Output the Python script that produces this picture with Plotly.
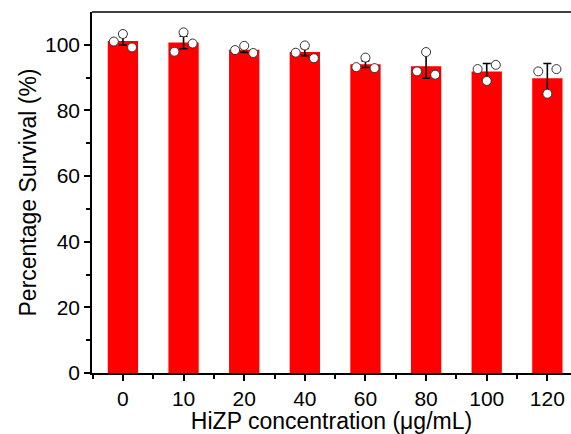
import plotly.graph_objects as go

categories = ["0", "10", "20", "40", "60", "80", "100", "120"]
means = [101.2, 100.7, 98.5, 97.8, 94.1, 93.5, 91.9, 89.8]
errors = [1.3, 1.9, 0.8, 1.1, 1.0, 3.7, 2.4, 4.5]
rep1 = [101.0, 97.9, 98.4, 97.6, 93.2, 91.9, 92.6, 91.9]
rep2 = [103.3, 103.8, 99.7, 99.8, 96.1, 97.8, 89.0, 85.1]
rep3 = [99.2, 100.4, 97.5, 95.9, 92.9, 90.9, 93.9, 92.6]

xi = list(range(len(categories)))
font = "Liberation Sans, Arial, sans-serif"

fig = go.Figure()
fig.add_trace(go.Bar(
    x=xi, y=means, width=0.5,
    marker=dict(color="#ff0000", line=dict(width=0)),
    error_y=dict(type="data", array=errors, color="black", thickness=1.6, width=4),
    showlegend=False,
))
for reps, off in [(rep1, -0.15), (rep2, 0.0), (rep3, 0.15)]:
    fig.add_trace(go.Scatter(
        x=[v + off for v in xi], y=reps, mode="markers",
        marker=dict(size=9, color="white", line=dict(color="#333333", width=1)),
        showlegend=False, cliponaxis=False,
    ))

fig.update_layout(
    width=571, height=434,
    margin=dict(l=92, r=0, t=12, b=61),
    paper_bgcolor="white", plot_bgcolor="white",
    font=dict(family=font, size=21, color="black"),
    bargap=0.5,
    shapes=[dict(type="line", xref="paper", yref="paper", x0=0, x1=1, y0=1, y1=1,
                 line=dict(color="black", width=1.5))],
)
fig.update_xaxes(
    range=[-0.51, 7.39], tickmode="array", tickvals=xi, ticktext=categories,
    showline=True, linecolor="black", linewidth=1.5,
    ticks="outside", ticklen=6, tickwidth=1.5, tickcolor="black",
    minor=dict(tickmode="linear", tick0=0.5, dtick=1, ticks="outside", ticklen=4, tickwidth=1.5, tickcolor="black"),
    showgrid=False, zeroline=False,
    tickfont=dict(size=21), automargin=False,
    title=dict(text="HiZP concentration (μg/mL)", font=dict(size=23), standoff=3),
)
fig.update_yaxes(
    range=[0, 110], tickvals=[0, 20, 40, 60, 80, 100],
    showline=True, linecolor="black", linewidth=1.5,
    ticks="outside", ticklen=6, tickwidth=1.5, tickcolor="black",
    minor=dict(tickvals=[10, 30, 50, 70, 90], ticks="outside", ticklen=4, tickwidth=1.5, tickcolor="black"),
    showgrid=False, zeroline=False,
    tickfont=dict(size=21), automargin=False,
    title=dict(text="Percentage Survival (%)", font=dict(size=23), standoff=2),
)

fig.write_html("out.html")
